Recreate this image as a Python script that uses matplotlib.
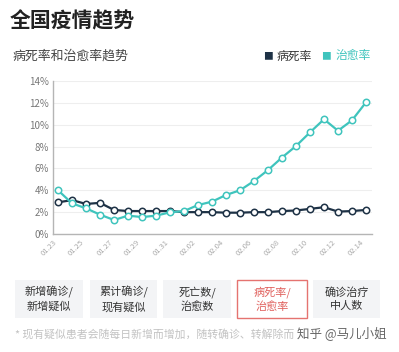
import matplotlib.pyplot as plt
from matplotlib.patches import FancyBboxPatch

plt.rcParams['font.family'] = ['Noto Sans CJK SC', 'DejaVu Sans']

dates = ['01.23', '01.24', '01.25', '01.26', '01.27', '01.28', '01.29', '01.30',
         '01.31', '02.01', '02.02', '02.03', '02.04', '02.05', '02.06', '02.07',
         '02.08', '02.09', '02.10', '02.11', '02.12', '02.13', '02.14']
death_rate = [2.9, 3.1, 2.75, 2.85, 2.2, 2.1, 2.1, 2.1, 2.1, 2.0, 2.0,
              2.0, 1.95, 1.95, 2.0, 2.0, 2.1, 2.15, 2.3, 2.45, 2.05, 2.1, 2.2]
cure_rate = [4.0, 2.8, 2.35, 1.77, 1.28, 1.68, 1.55, 1.68, 1.98, 2.1, 2.65,
             2.96, 3.57, 4.0, 4.85, 5.85, 7.0, 8.05, 9.3, 10.5, 9.45, 10.4, 12.05]
yticks = [0, 2, 4, 6, 8, 10, 12, 14]
buttons = ['新增确诊/\n新增疑似', '累计确诊/\n现有疑似', '死亡数/\n治愈数',
           '病死率/\n治愈率', '确诊治疗\n中人数']

W, H = 399, 352
DARK = '#1e3246'
TEAL = '#3fc4bd'

fig = plt.figure(figsize=(W / 100, H / 100), dpi=100)

def fx(px):
    return px / W

def fy(py):
    return 1 - py / H

ax = fig.add_axes([fx(53), fy(234), fx(372) - fx(53), fy(81) - fy(234)])
x = list(range(len(dates)))
ax.plot(x, death_rate, color=DARK, lw=1.6, marker='o', ms=4.6,
        mfc='white', mec=DARK, mew=1.1, zorder=3)
ax.plot(x, cure_rate, color=TEAL, lw=1.6, marker='o', ms=4.6,
        mfc='white', mec=TEAL, mew=1.1, zorder=3)
ax.set_xlim(-0.36, 22.43)
ax.set_ylim(0, 14)
ax.set_yticks(yticks)
ax.set_yticklabels([f'{v}%' for v in yticks], fontsize=7, color='#777777')
ax.set_xticks(x[::2])
ax.set_xticklabels(dates[::2], rotation=45, ha='right', fontsize=5.5,
                   color='#aaaaaa')
ax.tick_params(length=0, pad=3)
ax.grid(axis='y', color='#eeeeee', lw=0.8)
ax.set_axisbelow(True)
for s in ['top', 'right']:
    ax.spines[s].set_visible(False)
for s in ['left', 'bottom']:
    ax.spines[s].set_color('#b5b5b5')
    ax.spines[s].set_linewidth(1)

fig.text(fx(10), fy(21), '全国疫情趋势', fontsize=15, fontweight='bold',
         color='#222222', va='center')
fig.text(fx(13), fy(56), '病死率和治愈率趋势', fontsize=9.3, color='#444444',
         va='center')

# legend
fig.text(fx(263), fy(56), '■', fontsize=7, color=DARK, va='center')
fig.text(fx(277), fy(56), '病死率', fontsize=8.5, color='#333333', va='center')
fig.text(fx(321), fy(56), '■', fontsize=7, color=TEAL, va='center')
fig.text(fx(335), fy(56), '治愈率', fontsize=8.5, color=TEAL, va='center')

# buttons
boxes = [(15, 83), (90, 157), (163, 231), (237, 307), (313, 380)]
for i, (label, (x0, x1)) in enumerate(zip(buttons, boxes)):
    active = i == 3
    p = FancyBboxPatch((fx(x0), fy(318)), fx(x1) - fx(x0), fy(280) - fy(318),
                       boxstyle='square,pad=0', transform=fig.transFigure,
                       facecolor='white' if active else '#f3f4f6',
                       edgecolor='#e57370' if active else 'none', lw=1)
    fig.patches.append(p)
    fig.text(fx((x0 + x1) / 2), fy(299), label, fontsize=8,
             color='#e0605c' if active else '#333333',
             ha='center', va='center', linespacing=1.45)

fig.text(fx(15), fy(334), '* 现有疑似患者会随每日新增而增加，随转确诊、转解除而',
         fontsize=7.8, color='#c2c2c2', va='center')
fig.text(fx(297), fy(334), '知乎 @马儿小姐', fontsize=9, color='#666666',
         va='center')

fig.savefig('out.png', dpi=100)
